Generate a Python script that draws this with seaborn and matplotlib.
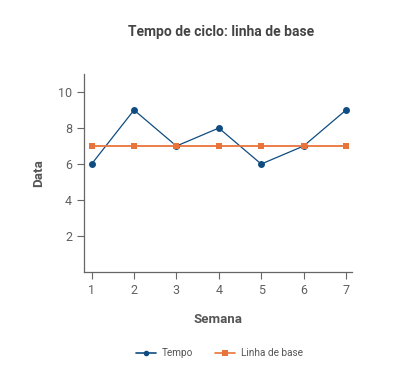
import matplotlib
matplotlib.use("Agg")
import matplotlib.pyplot as plt
import seaborn as sns
import pandas as pd
from matplotlib.lines import Line2D

semanas = [1, 2, 3, 4, 5, 6, 7]
tempo = [6, 9, 7, 8, 6, 7, 9]
linha_base = [7, 7, 7, 7, 7, 7, 7]
y_ticks = [2, 4, 6, 8, 10]

sns.set_style("white")
plt.rcParams['font.family'] = ['Roboto', 'DejaVu Sans']

df = pd.DataFrame({"Semana": semanas * 2,
                   "Data": tempo + linha_base,
                   "Série": ["Tempo"] * 7 + ["Linha de base"] * 7})

fig = plt.figure(figsize=(4.17, 3.74), dpi=100)
ax = fig.add_axes([0.2014, 0.2727, 0.6426, 0.5293])

sns.lineplot(data=df, x="Semana", y="Data", hue="Série", style="Série",
             palette={"Tempo": "#0f4c81", "Linha de base": "#e8743b"},
             markers={"Tempo": "o", "Linha de base": "s"},
             dashes=False, ax=ax, legend=False)
for line, lw, ms in zip(ax.lines, [0.9, 1.3], [5, 4.5]):
    line.set_linewidth(lw)
    line.set_markersize(ms)
    line.set_markeredgewidth(0)

ax.set_xlim(0.82, 7.14)
ax.set_ylim(0, 11)
ax.set_xticks(semanas)
ax.set_yticks(y_ticks)
gray = "#666666"
ax.tick_params(axis='both', colors=gray, labelsize=9, length=5, width=0.8,
               direction='out', labelcolor="#606060", bottom=True, left=True)
for s in ["top", "right"]:
    ax.spines[s].set_visible(False)
for s in ["left", "bottom"]:
    ax.spines[s].set_color(gray)
    ax.spines[s].set_linewidth(0.9)

ax.set_xlabel("Semana", fontsize=9.5, fontweight="bold", color="#555555", labelpad=12)
ax.set_ylabel("Data", fontsize=9.5, fontweight="bold", color="#555555", labelpad=9)
fig.text(0.53, 0.915, "Tempo de ciclo: linha de base", ha="center", va="center",
         fontsize=10, fontweight="bold", color="#444444")

handles = [Line2D([], [], color="#0f4c81", marker="o", markersize=4, lw=1.2, markeredgewidth=0),
           Line2D([], [], color="#e8743b", marker="s", markersize=4, lw=1.2, markeredgewidth=0)]
fig.legend(handles, ["Tempo", "Linha de base"], loc="center", bbox_to_anchor=(0.527, 0.056),
           ncol=2, frameon=False, fontsize=7.2, labelcolor="#555555",
           handlelength=2.0, columnspacing=2.2, handletextpad=0.6)

fig.savefig("out.png", dpi=100)
